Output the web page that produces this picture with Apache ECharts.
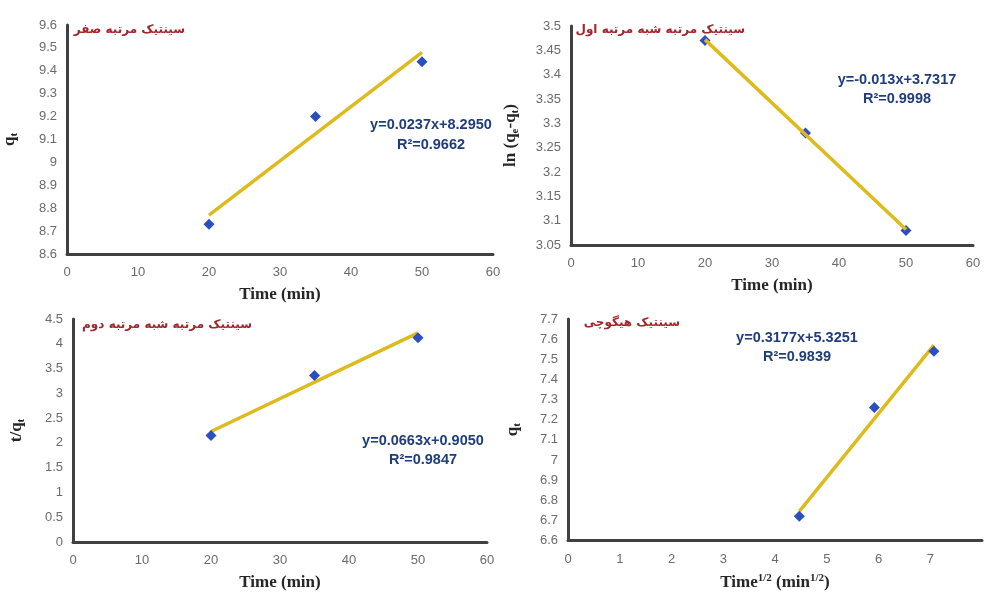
<!DOCTYPE html>
<html>
<head>
<meta charset="utf-8">
<script src="https://cdn.jsdelivr.net/npm/echarts@6/dist/echarts.min.js"></script>
<style>
  html, body { margin: 0; background: #fff; }
  #chart { width: 985px; height: 592px; }
</style>
</head>
<body>
<div id="chart"></div>
<script>
// measured data
const timeMin = [20, 35, 50]
const timeSqrt = [4.47, 5.92, 7.07]
const zeroOrderQt = [8.73, 9.2, 9.44]
const pseudoFirstLn = [3.47, 3.28, 3.08]
const pseudoSecondTq = [2.15, 3.36, 4.12]
const higuchiQt = [6.72, 7.26, 7.54]

// trend line end points
const zeroOrderFit = [[20, 8.77], [50, 9.48]]
const pseudoFirstFit = [[20, 3.472], [50, 3.082]]
const pseudoSecondFit = [[20, 2.23], [50, 4.22]]
const higuchiFit = [[4.47, 6.745], [7.07, 7.57]]

const panelTitles = ['سینتیک مرتبه صفر', 'سینتیک مرتبه شبه مرتبه اول', 'سینتیک مرتبه شبه مرتبه دوم', 'سینتیک هیگوچی']
const equations = ['y=0.0237x+8.2950', 'y=-0.013x+3.7317', 'y=0.0663x+0.9050', 'y=0.3177x+5.3251']
const rSquared = ['R²=0.9662', 'R²=0.9998', 'R²=0.9847', 'R²=0.9839']

const axisColor = '#404040'
const labelStyle = { color: '#6b6b6b', fontSize: 13, fontFamily: 'Liberation Sans' }
const nameStyle = {
  color: '#262626', fontSize: 17, fontWeight: 'bold', fontFamily: 'Liberation Serif',
  rich: {
    sub: { color: '#262626', fontSize: 11, fontWeight: 'bold', fontFamily: 'Liberation Serif', padding: [10, 0, 0, 0] },
    sup: { color: '#262626', fontSize: 11, fontWeight: 'bold', fontFamily: 'Liberation Serif', padding: [0, 0, 9, 0] }
  }
}

function xAxis(idx, max, interval, name) {
  return {
    gridIndex: idx, type: 'value', min: 0, max, interval,
    name, nameLocation: 'middle', nameGap: 32, nameTextStyle: nameStyle,
    axisLine: { show: true, lineStyle: { color: axisColor, width: 3 } },
    axisTick: { show: false },
    splitLine: { show: false },
    axisLabel: { ...labelStyle, margin: 12, formatter: v => (max === 8 && v === 8 ? '' : v) }
  }
}

function yAxis(idx, min, max, interval, name, gap) {
  return {
    gridIndex: idx, type: 'value', min, max, interval,
    name, nameLocation: 'middle', nameGap: gap, nameRotate: 90, nameTextStyle: nameStyle,
    axisLine: { show: true, onZero: false, lineStyle: { color: axisColor, width: 3 } },
    axisTick: { show: false },
    splitLine: { show: false },
    axisLabel: { ...labelStyle, margin: 10 }
  }
}

function points(idx, xs, ys) {
  return {
    type: 'scatter', xAxisIndex: idx, yAxisIndex: idx,
    data: xs.map((x, i) => [x, ys[i]]),
    symbol: 'diamond', symbolSize: 11,
    itemStyle: { color: '#2b4fc0', opacity: 1 }, z: 3
  }
}

function fitLine(idx, data, z) {
  return {
    type: 'line', xAxisIndex: idx, yAxisIndex: idx, data,
    symbol: 'none', lineStyle: { color: '#ddbb1c', width: 3.5 }, z
  }
}

function note(x, y, text, opts) {
  return { type: 'text', x, y, style: { text, ...opts } }
}

const persianFont = 'bold 12px "DejaVu Sans"'
const eqFont = 'bold 14.5px "Liberation Sans"'

const chart = echarts.init(document.getElementById('chart'))
chart.setOption({
  backgroundColor: '#fff',
  animation: false,
  grid: [
    { left: 62, top: 25, width: 431, height: 229 },
    { left: 571, top: 26, width: 402, height: 219 },
    { left: 73, top: 319, width: 414, height: 224 },
    { left: 568, top: 319, width: 421, height: 224 }
  ],
  xAxis: [
    xAxis(0, 60, 10, 'Time (min)'),
    xAxis(1, 60, 10, 'Time (min)'),
    xAxis(2, 60, 10, 'Time (min)'),
    xAxis(3, 8, 1, 'Time{sup|1/2} (min{sup|1/2})')
  ],
  yAxis: [
    yAxis(0, 8.6, 9.6, 0.1, 'q{sub|t}', 47),
    yAxis(1, 3.05, 3.5, 0.05, 'ln (q{sub|e}-q{sub|t})', 50),
    yAxis(2, 0, 4.5, 0.5, 't/q{sub|t}', 46),
    yAxis(3, 6.6, 7.7, 0.1, 'q{sub|t}', 45)
  ],
  series: [
    fitLine(0, zeroOrderFit, 2), points(0, timeMin, zeroOrderQt),
    points(1, timeMin, pseudoFirstLn), fitLine(1, pseudoFirstFit, 4),
    fitLine(2, pseudoSecondFit, 2), points(2, timeMin, pseudoSecondTq),
    fitLine(3, higuchiFit, 2), points(3, timeSqrt, higuchiQt)
  ],
  graphic: [
    note(185, 30, panelTitles[0], { font: persianFont, fill: '#a3262b', textAlign: 'right', textVerticalAlign: 'middle' }),
    note(745, 30, panelTitles[1], { font: persianFont, fill: '#a3262b', textAlign: 'right', textVerticalAlign: 'middle' }),
    note(252, 325, panelTitles[2], { font: persianFont, fill: '#a3262b', textAlign: 'right', textVerticalAlign: 'middle' }),
    note(680, 323, panelTitles[3], { font: persianFont, fill: '#a3262b', textAlign: 'right', textVerticalAlign: 'middle' }),
    note(431, 115, equations[0] + '\n' + rSquared[0], { font: eqFont, fill: '#1f3d7a', textAlign: 'center', lineHeight: 20 }),
    note(897, 70, equations[1] + '\n' + rSquared[1], { font: eqFont, fill: '#1f3d7a', textAlign: 'center', lineHeight: 19 }),
    note(423, 431, equations[2] + '\n' + rSquared[2], { font: eqFont, fill: '#1f3d7a', textAlign: 'center', lineHeight: 19 }),
    note(797, 328, equations[3] + '\n' + rSquared[3], { font: eqFont, fill: '#1f3d7a', textAlign: 'center', lineHeight: 19 })
  ]
})
window.addEventListener('resize', () => chart.resize())
</script>
</body>
</html>
